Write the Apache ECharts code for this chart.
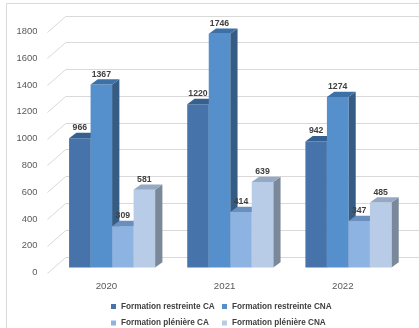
<!DOCTYPE html>
<html>
<head>
<meta charset="utf-8">
<script src="https://cdn.jsdelivr.net/npm/echarts@6/dist/echarts.min.js"></script>
<style>
  html, body { margin: 0; padding: 0; background: #ffffff; }
  #chart { width: 419px; height: 328px; }
</style>
</head>
<body>
<div id="chart"></div>
<script>
// Categories and values
const years = ['2020', '2021', '2022'];
const seriesNames = [
  'Formation restreinte CA',
  'Formation restreinte CNA',
  'Formation plénière CA',
  'Formation plénière CNA'
];
const restreinteCA  = [966, 1220, 942];
const restreinteCNA = [1367, 1746, 1274];
const pleniereCA    = [309, 414, 347];
const pleniereCNA   = [581, 639, 485];
const yTicks = [0, 200, 400, 600, 800, 1000, 1200, 1400, 1600, 1800];

const seriesValues = [restreinteCA, restreinteCNA, pleniereCA, pleniereCNA];

// Face colours for the pseudo-3D columns
const frontColors = ['#4674aa', '#5590cd', '#8cb3e1', '#b8cce8'];
const topColors   = ['#36608f', '#3d70a6', '#6b8fbd', '#96a9c4'];
const sideColors  = ['#2f5479', '#355c84', '#5c7ba1', '#7b889a'];

const FONT = '"Liberation Sans", Arial, sans-serif';

// Perspective offsets (pixels)
const WALL_DX = 18.3, WALL_DY = -16;      // back wall relative to the front plane
const BAR_DX = 5.6, BAR_DY = -5;          // column front faces relative to the front plane
const BAR_DEPTH_X = 7.3, BAR_DEPTH_Y = -5.3; // column depth
const BAR_FRAC = 0.182;                   // column width as a share of a category band

function columnRenderer(s) {
  return function (params, api) {
    const cat = api.value(0);
    const v = api.value(1);
    const topPt = api.coord([cat, v]);
    const basePt = api.coord([cat, 0]);
    const band = api.size([1, 0])[0];
    const w = band * BAR_FRAC;
    const x0 = topPt[0] - 2 * w + s * w + BAR_DX;
    const x1 = x0 + w;
    const yt = topPt[1] + BAR_DY;
    const yb = basePt[1] + BAR_DY;
    const dx = BAR_DEPTH_X, dy = BAR_DEPTH_Y;
    return {
      type: 'group',
      children: [
        { type: 'polygon', shape: { points: [[x1, yt], [x1 + dx, yt + dy], [x1 + dx, yb + dy], [x1, yb]] },
          style: { fill: sideColors[s] } },
        { type: 'rect', shape: { x: x0, y: yt, width: w, height: yb - yt },
          style: { fill: frontColors[s] } },
        { type: 'polygon', shape: { points: [[x0, yt], [x1, yt], [x1 + dx, yt + dy], [x0 + dx, yt + dy]] },
          style: { fill: topColors[s] } },
        { type: 'text', x: x0 + w / 2, y: yt + dy - 0.5,
          style: { text: String(v), align: 'center', verticalAlign: 'bottom',
                   font: 'bold 8.7px ' + FONT, fill: '#404040' } }
      ]
    };
  };
}

// Back-wall gridlines with the diagonal ticks joining them to the value axis
function wallRenderer(params, api) {
  const v = api.value(1);
  const cs = params.coordSys;
  const p = api.coord([0, v]);
  const y = Math.round(p[1]) + 0.5;
  const x = cs.x;
  const yb = Math.round(p[1] + WALL_DY) + 0.5;
  return {
    type: 'polyline',
    shape: { points: [[x, y], [x + WALL_DX, yb], [419, yb]] },
    style: { stroke: '#d9d9d9', lineWidth: 1, fill: null }
  };
}

const chart = echarts.init(document.getElementById('chart'), null, { renderer: 'canvas' });

const series = [
  {
    type: 'custom',
    name: 'wall',
    renderItem: wallRenderer,
    data: yTicks.map(t => [0, t]),
    encode: { x: 0, y: 1 },
    silent: true,
    z: 1
  }
].concat(seriesValues.map((vals, s) => ({
  type: 'custom',
  name: seriesNames[s],
  renderItem: columnRenderer(s),
  data: vals.map((v, i) => [i, v]),
  encode: { x: 0, y: 1 },
  itemStyle: { color: frontColors[s] },
  z: 2 + s
})));

const legendText = { color: '#404040', fontSize: 8.2, fontWeight: 'bold', fontFamily: FONT, lineHeight: 10 };

chart.setOption({
  animation: false,
  backgroundColor: '#ffffff',
  graphic: [
    { type: 'rect', shape: { x: 6.5, y: 3.5, width: 600, height: 600 },
      style: { fill: null, stroke: '#d9d9d9', lineWidth: 1 }, silent: true, z: 0 }
  ],
  grid: { left: 47.4, right: 17.1, top: 31.5, bottom: 55.5 },
  xAxis: {
    type: 'category',
    data: years,
    axisLine: { show: false },
    axisTick: { show: false },
    axisLabel: { margin: 9, color: '#595959', fontSize: 9.7, fontFamily: FONT }
  },
  yAxis: {
    type: 'value',
    min: 0,
    max: 1800,
    interval: 200,
    axisLine: { show: false },
    axisTick: { show: false },
    splitLine: { show: false },
    axisLabel: { margin: 10, color: '#595959', fontSize: 9.4, fontFamily: FONT,
                 formatter: v => String(v) }
  },
  legend: [
    { data: [seriesNames[0], seriesNames[2]], orient: 'vertical', left: 111, top: 301.5,
      itemWidth: 5, itemHeight: 5, itemGap: 6.5, icon: 'rect', padding: 0,
      textStyle: legendText, selectedMode: false },
    { data: [seriesNames[1], seriesNames[3]], orient: 'vertical', left: 222, top: 301.5,
      itemWidth: 5, itemHeight: 5, itemGap: 6.5, icon: 'rect', padding: 0,
      textStyle: legendText, selectedMode: false }
  ],
  series: series
});
</script>
</body>
</html>
